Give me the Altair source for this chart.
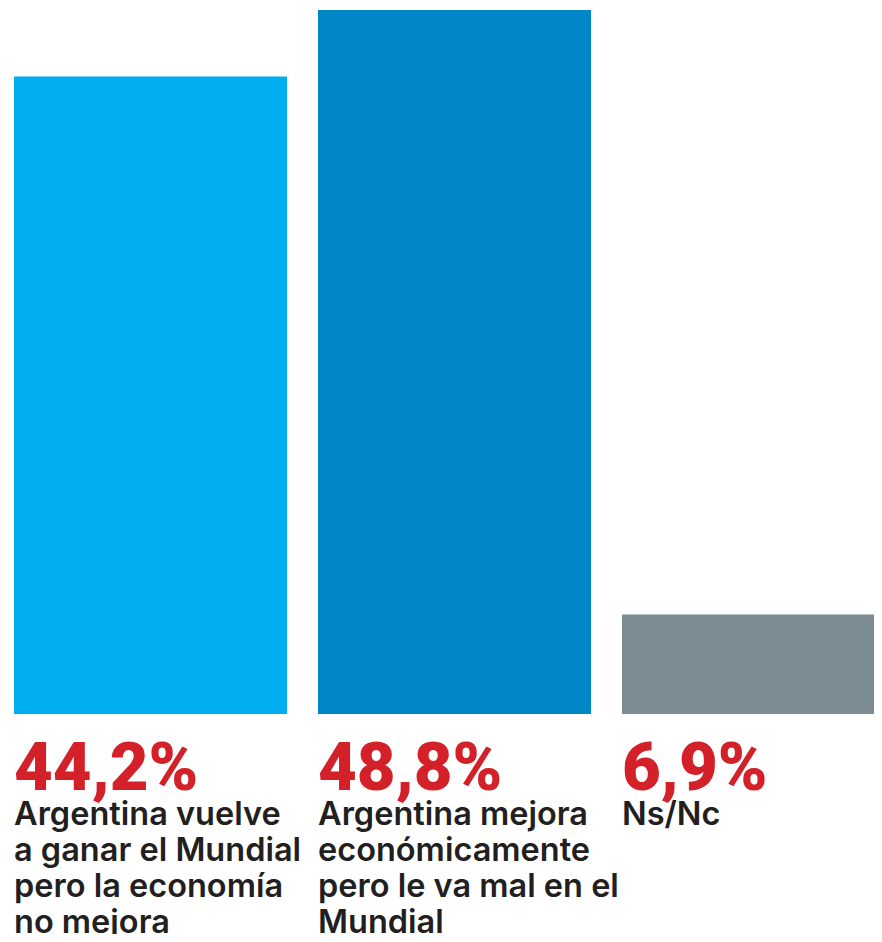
import altair as alt
import pandas as pd

categories = ["a", "b", "c"]
values = [44.2, 48.8, 6.9]
pct_labels = ["44,2%", "48,8%", "6,9%"]
descriptions = [
    "Argentina vuelve\na ganar el Mundial\npero la economía\nno mejora",
    "Argentina mejora\neconómicamente\npero le va mal en el\nMundial",
    "Ns/Nc",
]
colors = ["#00AEEF", "#0087C7", "#7D8B93"]

df = pd.DataFrame({
    "cat": categories,
    "value": values,
    "pct": pct_labels,
    "desc": descriptions,
})

H = 706
xscale = alt.Scale(domain=categories, range=[6, 887], paddingInner=0.102, paddingOuter=0)
x = alt.X("cat:N", scale=xscale, axis=None, bandPosition=0)

bars = alt.Chart(df).mark_bar().encode(
    x=alt.X("cat:N", scale=xscale, axis=None),
    y=alt.Y("value:Q", scale=alt.Scale(domain=[0, 48.94], nice=False), axis=None),
    color=alt.Color("cat:N", scale=alt.Scale(domain=categories, range=colors), legend=None),
)

pct = alt.Chart(df).mark_text(
    align="left", baseline="alphabetic", font="Roboto", fontSize=67,
    fontWeight=900, color="#D42028",
).encode(x=x, y=alt.value(782), text="pct:N")

desc = alt.Chart(df).mark_text(
    align="left", baseline="alphabetic", font="Inter", fontSize=32.5,
    fontWeight=600, color="#231F20", lineBreak="\n", lineHeight=36,
).encode(x=x, y=alt.value(817), text="desc:N")

chart = alt.layer(bars, pct, desc).properties(
    width=866, height=H,
    autosize=alt.AutoSizeParams(type="none"),
    padding={"left": 0, "top": 0, "right": 0, "bottom": 220},
).configure_view(stroke=None)

chart.save("out.html", embed_options={"renderer": "svg", "actions": False})
